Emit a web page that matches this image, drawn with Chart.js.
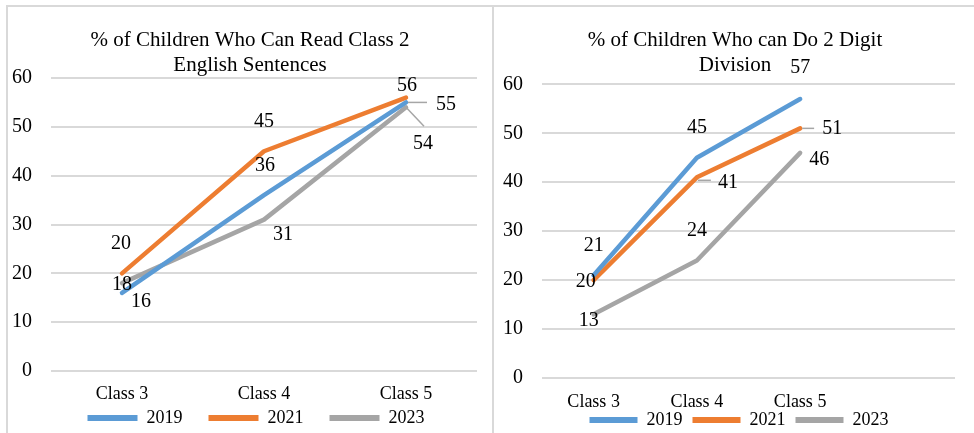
<!DOCTYPE html>
<html>
<head>
<meta charset="utf-8">
<script src="https://cdn.jsdelivr.net/npm/chart.js@4.4.0/dist/chart.umd.min.js"></script>
<style>
	html, body { margin: 0; padding: 0; background: #fff; }
	body { width: 974px; height: 433px; overflow: hidden; position: relative; }
	.rule { position: absolute; background: #d9d9d9; }
	#chart-1 { position: absolute; left: 7px; top: 0; }
	#chart-2 { position: absolute; left: 493px; top: 0; }
</style>
</head>
<body>
<div class="rule" style="left:6px; top:5px; width:968px; height:2px;"></div>
<div class="rule" style="left:6px; top:5px; width:2px; height:428px;"></div>
<div class="rule" style="left:492px; top:5px; width:2px; height:428px;"></div>
<canvas id="chart-1" width="486" height="433"></canvas>
<canvas id="chart-2" width="481" height="433"></canvas>
<script>

var seriesNames = ['2019', '2021', '2023'];
var seriesColours = ['#5B9BD5', '#ED7D31', '#A5A5A5'];
var yTicks = [0, 10, 20, 30, 40, 50, 60];

// % who can read class 2 english sentences
var readingTitle = ['% of Children Who Can Read Class 2', 'English Sentences'];
var readingCategories = ['Class 3', 'Class 4', 'Class 5'];
var reading2019 = [16, 36, 55];
var reading2021 = [20, 45, 56];
var reading2023 = [18, 31, 54];

// % who can do 2 digit division (empty 4th slot, as in the original sheet)
var divisionTitle = ['% of Children Who can Do 2 Digit', 'Division'];
var divisionCategories = ['Class 3', 'Class 4', 'Class 5', ''];
var division2019 = [21, 45, 57];
var division2021 = [20, 41, 51];
var division2023 = [13, 24, 46];

Chart.defaults.font.family = '"Liberation Serif", "Times New Roman", serif';
Chart.defaults.color = '#000';

// where each value label sits relative to its point: [dx, dy, leader line]
var readingLabelSpots = [
	[[19, 9], [1, -29], [40, 2, [2, 0, 21, 0]]],
	[[-1, -30], [0, -30], [1, -12]],
	[[0, 2], [19, 15], [17, 36, [0, 0, 18, 19]]]
];
var divisionLabelSpots = [
	[[0, -29], [0, -30], [0, -31]],
	[[-8, 2], [31, 5, [1, 3, 14, 3]], [32, 0, [2, 0, 14, 0]]],
	[[-5, 6], [0, -30], [19, 7]]
];

function makeLabelPlugin(spots) {
	return {
		id: 'pointLabels',
		afterDatasetsDraw: function(chart) {
			var ctx = chart.ctx;
			ctx.save();
			ctx.font = '20px "Liberation Serif"';
			ctx.textAlign = 'center';
			ctx.textBaseline = 'middle';
			chart.data.datasets.forEach(function(dataset, i) {
				var points = chart.getDatasetMeta(i).data;
				for (var j = 0; j < dataset.data.length; j++) {
					var p = points[j];
					var spot = spots[i][j];
					if (spot[2]) {
						var l = spot[2];
						ctx.strokeStyle = '#A6A6A6';
						ctx.lineWidth = 1.5;
						ctx.beginPath();
						ctx.moveTo(p.x + l[0], p.y + l[1]);
						ctx.lineTo(p.x + l[2], p.y + l[3]);
						ctx.stroke();
					}
					ctx.fillStyle = '#000';
					ctx.fillText(dataset.data[j], p.x + spot[0], p.y + spot[1]);
				}
			});
			ctx.restore();
		}
	};
}

// move title / legend after layout so the plot area stays where it is
function makeBoxShift(cfg) {
	return {
		id: 'boxShift',
		afterLayout: function(chart) {
			var t = chart.titleBlock;
			t.left += cfg.titleShift;
			t.right += cfg.titleShift;

			// legend clips to its own box, so give it the full row height again
			var lg = chart.legend;
			lg.left += cfg.legendShift;
			lg.right += cfg.legendShift;
			lg.top = cfg.legendTextY - cfg.legendPad - 9;
			lg.height = cfg.legendPad + 18 + 10;
			lg.bottom = lg.top + lg.height;
		}
	};
}

function makeLineGraph(canvasId, cfg) {
	var values = [cfg.s2019, cfg.s2021, cfg.s2023];

	var data1 = {
		labels: cfg.categories,
		datasets: values.map(function(v, i) {
			return {
				label: seriesNames[i],
				data: v,
				borderColor: seriesColours[i],
				backgroundColor: seriesColours[i],
				borderWidth: 4.5,
				borderCapStyle: 'round',
				borderJoinStyle: 'round',
				pointRadius: 0,
				pointHoverRadius: 0,
				tension: 0
			};
		})
	};

	var options1 = {
		responsive: false,
		animation: false,
		layout: {
			padding: cfg.padding
		},
		plugins: {
			title: {
				display: true,
				text: cfg.title,
				color: '#000',
				font: { size: 21, weight: 'normal', lineHeight: 1.2 },
				padding: { top: 27.4, bottom: cfg.titleGap }
			},
			legend: {
				display: true,
				position: 'bottom',
				maxHeight: 10,
				labels: {
					usePointStyle: true,
					pointStyle: 'line',
					pointStyleWidth: cfg.legendLine,
					padding: cfg.legendPad,
					color: '#000',
					font: { size: 18 },
					generateLabels: function(chart) {
						var items = Chart.defaults.plugins.legend.labels.generateLabels(chart);
						items.forEach(function(item) { item.lineWidth = 6; });
						return items;
					}
				}
			},
			tooltip: { enabled: false }
		},
		scales: {
			x: {
				offset: true,
				grid: { display: false, drawTicks: false },
				border: { display: false },
				ticks: {
					padding: cfg.xPad,
					maxRotation: 0,
					autoSkip: false,
					font: { size: 18 }
				},
				afterFit: function(scale) { scale.height = 34; }
			},
			y: {
				min: yTicks[0],
				max: yTicks[yTicks.length - 1],
				grid: { color: '#d9d9d9', lineWidth: 2, drawTicks: false },
				border: { display: false },
				ticks: {
					stepSize: yTicks[1] - yTicks[0],
					padding: 19,
					font: { size: 20 }
				},
				afterFit: function(scale) { scale.width = cfg.yWidth; }
			}
		}
	};

	return new Chart(canvasId, {
		type: 'line',
		data: data1,
		options: options1,
		plugins: [makeLabelPlugin(cfg.spots), makeBoxShift(cfg)]
	});
}

makeLineGraph('chart-1', {
	title: readingTitle,
	categories: readingCategories,
	s2019: reading2019, s2021: reading2021, s2023: reading2023,
	spots: readingLabelSpots,
	padding: { left: 0, right: 16, top: 0, bottom: 18 },
	titleGap: 0.2,
	titleShift: 8,
	legendLine: 50,
	legendPad: 26,
	legendShift: 14,
	legendTextY: 418,
	xPad: 12,
	yWidth: 44
});

makeLineGraph('chart-2', {
	title: divisionTitle,
	categories: divisionCategories,
	s2019: division2019, s2021: division2021, s2023: division2023,
	spots: divisionLabelSpots,
	padding: { left: 0, right: 19, top: 0, bottom: 11 },
	titleGap: 6.5,
	titleShift: 11,
	legendLine: 48,
	legendPad: 10,
	legendShift: 15,
	legendTextY: 420,
	xPad: 13,
	yWidth: 49
});

</script>
</body>
</html>
